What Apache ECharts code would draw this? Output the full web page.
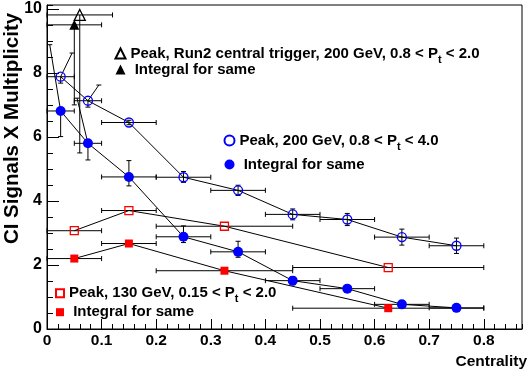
<!DOCTYPE html>
<html><head><meta charset="utf-8">
<script src="https://cdn.jsdelivr.net/npm/echarts@6/dist/echarts.min.js"></script>
<style>html,body{margin:0;padding:0;background:#fff}#c{width:531px;height:371px}</style>
</head><body><div id="c"></div>
<script>
const FONT = '"Liberation Sans", Arial, Helvetica, sans-serif';

// ---- data ----
const cent200 = [0.025, 0.075, 0.15, 0.25, 0.35, 0.45, 0.55, 0.65, 0.75];
const binLo200 = [0, 0.05, 0.1, 0.2, 0.3, 0.4, 0.5, 0.6, 0.7];
const binHi200 = [0.05, 0.1, 0.2, 0.3, 0.4, 0.5, 0.6, 0.7, 0.8];

const peak200 = [7.88, 7.13, 6.45, 4.74, 4.33, 3.58, 3.42, 2.87, 2.60];
const peak200Lo = [7.68, 6.93, 6.38, 4.58, 4.17, 3.41, 3.23, 2.62, 2.36];
const peak200Hi = [8.62, 7.62, 6.52, 4.92, 4.49, 3.75, 3.61, 3.12, 2.84];
const peak200HiX = [0.046, 0.095, 0.15, 0.25, 0.35, 0.45, 0.55, 0.65, 0.75];

const int200 = [6.81, 5.80, 4.75, 2.88, 2.41, 1.51, 1.26, 0.77, 0.66];
const int200Lo = [6.01, 5.28, 4.47, 2.70, 2.24, 1.38, 1.18, 0.72, 0.62];
const int200Hi = [8.88, 7.21, 5.26, 3.22, 2.74, 1.64, 1.34, 0.83, 0.70];
const int200HiX = [0.005, 0.055, 0.15, 0.25, 0.35, 0.45, 0.55, 0.65, 0.75];

const cent130 = [0.05, 0.15, 0.325, 0.625];
const binLo130 = [0, 0.1, 0.2, 0.45];
const binHi130 = [0.1, 0.2, 0.45, 0.8];
const peak130 = [3.07, 3.70, 3.21, 1.92];
const int130 = [2.20, 2.67, 1.82, 0.65];

const centRun2Peak = [0.06], binLoRun2Peak = [0], binHiRun2Peak = [0.12];
const run2Peak = [9.81], run2PeakLo = [5.5];
const centRun2Int = [0.05], binLoRun2Int = [0], binHiRun2Int = [0.1];
const run2Int = [9.5], run2IntLo = [7.0];

const xTicks = [0, 0.1, 0.2, 0.3, 0.4, 0.5, 0.6, 0.7, 0.8];
const yTicks = [0, 2, 4, 6, 8, 10];

// ---- helpers ----
const pts = (xs, ys) => xs.map((x, i) => [x, ys[i]]);

function errSeries(xs, ys, xlo, xhi, ylo, yhi, yhiX) {
  const data = xs.map((x, i) => [x, ys[i], xlo[i], xhi[i],
    ylo ? ylo[i] : ys[i], yhi ? yhi[i] : ys[i], yhiX ? yhiX[i] : x]);
  return {
    type: 'custom', silent: true, z: 3, data,
    encode: { x: [0, 2, 3], y: [1, 4, 5] },
    renderItem(params, api) {
      const x = api.value(0), yv = api.value(1);
      const c = api.coord([x, yv]);
      const l = api.coord([api.value(2), yv]);
      const r = api.coord([api.value(3), yv]);
      const b = api.coord([x, api.value(4)]);
      const t = api.coord([api.value(6), api.value(5)]);
      const cap = 2.5;
      const style = { stroke: '#000', lineWidth: 1 };
      const children = [];
      const seg = (x1, y1, x2, y2) => children.push({ type: 'line', shape: { x1, y1, x2, y2 }, style });
      if (r[0] - l[0] > 1) {
        seg(l[0], c[1], r[0], c[1]);
        seg(l[0], c[1] - cap, l[0], c[1] + cap);
        seg(r[0], c[1] - cap, r[0], c[1] + cap);
      }
      if (b[1] - c[1] > 1) {
        seg(c[0], c[1], c[0], b[1]);
        seg(c[0] - cap, b[1], c[0] + cap, b[1]);
      }
      if (c[1] - t[1] > 1) {
        seg(c[0], c[1], t[0], t[1]);
        seg(t[0] - cap, t[1], t[0] + cap, t[1]);
      }
      return { type: 'group', children };
    }
  };
}
function lineSeries(xs, ys) {
  return { type: 'line', data: pts(xs, ys), symbol: 'none', silent: true, z: 2,
    lineStyle: { color: '#000', width: 1 } };
}
function markSeries(name, xs, ys, symbol, size, fill, stroke) {
  return { type: 'scatter', name, data: pts(xs, ys), symbol, symbolSize: size, z: 4, silent: true,
    itemStyle: { color: fill, borderColor: stroke, borderWidth: fill === 'rgba(0,0,0,0)' ? 1.3 : 0, opacity: 1 } };
}
const NONE = 'rgba(0,0,0,0)';

const rich = {
  a: { fontFamily: FONT, fontWeight: 'bold', fontSize: 15, lineHeight: 16, color: '#000' },
  s: { fontFamily: FONT, fontWeight: 'bold', fontSize: 11, lineHeight: 4, padding: [12, 0, 0, 0], color: '#000' }
};
const labels = {
  'run2Peak': '{a|Peak, Run2 central trigger, 200 GeV, 0.8 < P}{s|t}{a| < 2.0}',
  'run2Int': '{a| Integral for same}',
  'peak200': '{a|Peak, 200 GeV, 0.8 < P}{s|t}{a| < 4.0}',
  'int200': '{a| Integral for same}',
  'peak130': '{a|Peak, 130 GeV, 0.15 < P}{s|t}{a| < 2.0}',
  'int130': '{a| Integral for same}'
};
function legendAt(names, left, top, gap, w) {
  return { data: names, left, top, orient: 'vertical', itemGap: gap, padding: 0,
    itemWidth: w, itemHeight: w, selectedMode: false,
    formatter: n => labels[n], textStyle: { rich } };
}

const tickAxisLabel = (step, size, margin) => ({
  show: true, margin, color: '#000', fontFamily: FONT, fontWeight: 'bold', fontSize: size,
  showMaxLabel: false,
  formatter: v => {
    const k = v / step;
    return Math.abs(k - Math.round(k)) < 1e-6 ? String(+(v.toFixed(2))) : '';
  }
});

const chart = echarts.init(document.getElementById('c'), null, { renderer: 'canvas' });
chart.setOption({
  animation: false,
  backgroundColor: '#fff',
  grid: { left: 47, right: 9, top: 5, bottom: 42, show: true, borderColor: '#000', borderWidth: 1,
    backgroundColor: 'rgba(0,0,0,0)', containLabel: false, outerBoundsMode: 'none' },
  xAxis: [
    { type: 'value', min: 0, max: 0.87, interval: 0.1, position: 'bottom',
      axisLine: { show: true, lineStyle: { color: '#000', width: 1 } },
      axisTick: { show: true, inside: true, length: 10, lineStyle: { color: '#000', width: 1 } },
      axisLabel: tickAxisLabel(0.1, 15.5, 4), splitLine: { show: false } },
    { type: 'value', min: 0, max: 0.87, interval: 0.02, position: 'bottom',
      axisLine: { show: false },
      axisTick: { show: true, inside: true, length: 5, lineStyle: { color: '#000', width: 1 } },
      axisLabel: { show: false }, splitLine: { show: false } }
  ],
  yAxis: [
    { type: 'value', min: 0, max: 10.12, interval: 2, position: 'left',
      axisLine: { show: true, lineStyle: { color: '#000', width: 1 } },
      axisTick: { show: true, inside: true, length: 12, lineStyle: { color: '#000', width: 1 } },
      axisLabel: tickAxisLabel(2, 16, 5), splitLine: { show: false } },
    { type: 'value', min: 0, max: 10.12, interval: 0.5, position: 'left',
      axisLine: { show: false },
      axisTick: { show: true, inside: true, length: 6, lineStyle: { color: '#000', width: 1 } },
      axisLabel: { show: false }, splitLine: { show: false } }
  ],
  legend: [
    legendAt(['run2Peak', 'run2Int'], 114.5, 42, -3, 10),
    legendAt(['peak200', 'int200'], 223.5, 129, 5, 10),
    legendAt(['peak130', 'int130'], 55, 281.7, 0, 8)
  ],
  graphic: [
    { type: 'text', x: 12, y: 128.5, rotation: Math.PI / 2,
      style: { text: 'CI Signals X Multiplicity', align: 'center', verticalAlign: 'middle',
        fontFamily: FONT, fontWeight: 'bold', fontSize: 20.5, fill: '#000' } },
    { type: 'text', x: 527, y: 362,
      style: { text: 'Centrality', align: 'right', verticalAlign: 'middle',
        fontFamily: FONT, fontWeight: 'bold', fontSize: 15.5, fill: '#000' } }
  ],
  series: [
    lineSeries(cent200, peak200),
    lineSeries(cent200, int200),
    lineSeries(cent130, peak130),
    lineSeries(cent130, int130),
    errSeries(cent200, peak200, binLo200, binHi200, peak200Lo, peak200Hi, peak200HiX),
    errSeries(cent200, int200, binLo200, binHi200, int200Lo, int200Hi, int200HiX),
    errSeries(cent130, peak130, binLo130, binHi130),
    errSeries(cent130, int130, binLo130, binHi130),
    errSeries(centRun2Peak, run2Peak, binLoRun2Peak, binHiRun2Peak, run2PeakLo),
    errSeries(centRun2Int, run2Int, binLoRun2Int, binHiRun2Int, run2IntLo),
    markSeries('peak200', cent200, peak200, 'circle', 9, NONE, '#0000ff'),
    markSeries('int200', cent200, int200, 'circle', 10, '#0000ff', '#0000ff'),
    markSeries('peak130', cent130, peak130, 'rect', 8, NONE, '#ff0000'),
    markSeries('int130', cent130, int130, 'rect', 8, '#ff0000', '#ff0000'),
    markSeries('run2Peak', centRun2Peak, run2Peak, 'triangle', 11, NONE, '#000'),
    markSeries('run2Int', centRun2Int, run2Int, 'triangle', 10, '#000', '#000')
  ]
});
</script></body></html>
